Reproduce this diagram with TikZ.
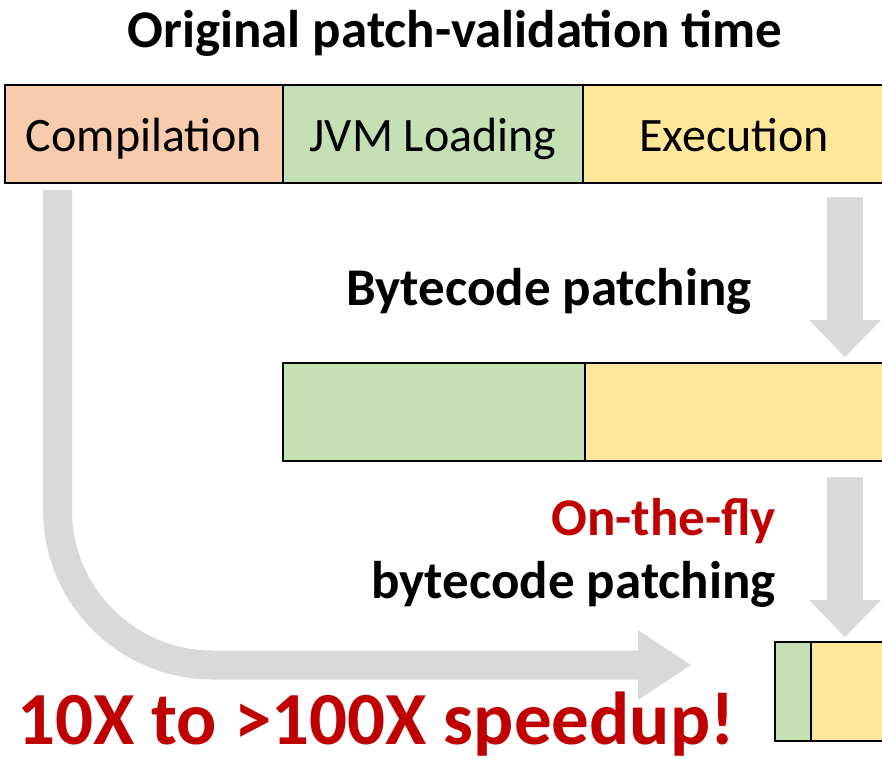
\documentclass[tikz,border=0pt]{standalone}
\usepackage{fontspec}
\setmainfont{Carlito}
\usetikzlibrary{arrows.meta,calc}
\definecolor{compfill}{HTML}{F8CBAD}
\definecolor{jvmfill}{HTML}{C5E0B4}
\definecolor{execfill}{HTML}{FFE699}
\definecolor{flowgray}{HTML}{D9D9D9}
\definecolor{speedred}{HTML}{C00000}

\tikzset{
  phase/.style={draw=black, line width=2.5pt, minimum height=98pt,
    inner sep=0pt, outer sep=0pt, text height=40pt, text depth=4pt,
    font=\fontsize{48}{58}\selectfont},
  heading/.style={inner sep=0pt, font=\fontsize{53}{64}\selectfont\bfseries},
  flowdown/.style={draw=flowgray, line width=36pt, line cap=butt,
    -{Triangle[length=37pt,width=72pt,line width=0pt,fill=flowgray]}},
  flowbend/.style={draw=flowgray, line width=29pt, line cap=butt,
    rounded corners=155pt,
    -{Triangle[length=53pt,width=70pt,line width=0pt,fill=flowgray]}},
}

\begin{document}
\begin{tikzpicture}[x=1pt,y=-1pt]
\useasboundingbox (0,0) rectangle (882,759);
\clip (0,0) rectangle (882,759);

% original pipeline
\node[phase, fill=compfill, minimum width=278pt] (comp) at (144,134) {Compilation};
\node[phase, fill=jvmfill,  minimum width=300pt] (jvm)  at (433,134) {JVM Loading};
\node[phase, fill=execfill, minimum width=302pt] (exec) at (734,134) {Execution};

% after bytecode patching
\node[phase, fill=jvmfill,  minimum width=302pt] (jvm2)  at (434,412) {};
\node[phase, fill=execfill, minimum width=300pt] (exec2) at (735,412) {};

% after on-the-fly bytecode patching
\node[phase, fill=jvmfill,  minimum width=36pt, minimum height=99pt] (jvm3)  at (793,691.5) {};
\node[phase, fill=execfill, minimum width=74pt, minimum height=99pt] (exec3) at (848,691.5) {};

% labels
\node[heading, anchor=base] (title) at (455,48) {Original patch-validation time};
\node[heading, anchor=base] (bcp) at (549,305) {Bytecode patching};
\node[heading, anchor=base east, text=speedred] (otf) at (776,535) {On-the-fly};
\node[heading, anchor=base east] (otfb) at (776,598) {bytecode patching};
\node[inner sep=0pt, anchor=base west, text=speedred,
      font=\fontsize{75}{90}\selectfont\bfseries] (speed) at (17,744) {10X to >100X speedup!};

% flow arrows
\draw[flowdown] ($(exec.south)+(111,14)$) -- ($(exec2.north)+(110,-6)$);
\draw[flowdown] ($(exec2.south)+(110,16)$) -- ($(exec3.north)+(-3,-5)$);
\coordinate (gain) at (691,665);
\draw[flowbend] ($(comp.south west)+(52.5,7)$) |- (gain);
\end{tikzpicture}
\end{document}
